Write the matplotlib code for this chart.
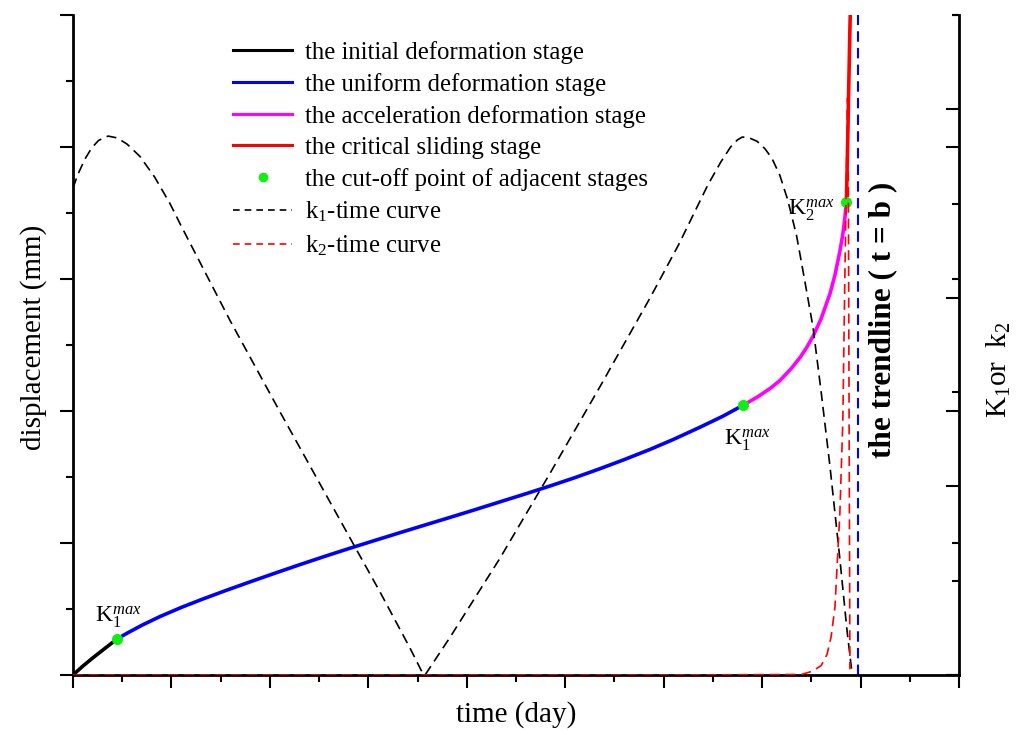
import matplotlib
matplotlib.use('Agg')
import matplotlib.pyplot as plt
from matplotlib.lines import Line2D
from matplotlib.ticker import FixedLocator

plt.rcParams['font.family'] = ['Liberation Serif', 'DejaVu Serif']
plt.rcParams['mathtext.fontset'] = 'custom'
plt.rcParams['mathtext.rm'] = 'Liberation Serif'
plt.rcParams['mathtext.it'] = 'Liberation Serif:italic'
plt.rcParams['mathtext.bf'] = 'Liberation Serif:bold'

# ---------------- data ----------------
# displacement stages (time, displacement)
t_initial = [0.0, 0.10, 0.206, 0.33, 0.447]
d_initial = [0.0, 0.135, 0.265, 0.41, 0.545]

t_uniform = [0.447, 0.55, 0.70, 0.884, 1.10, 1.32, 1.55, 1.80, 2.05, 2.31, 2.56, 2.81,
             3.06, 3.32, 3.57, 3.83, 4.08, 4.34, 4.60, 4.85, 5.10, 5.35, 5.60, 5.86,
             6.10, 6.37, 6.60, 6.81]
d_uniform = [0.545, 0.634, 0.754, 0.886, 1.024, 1.152, 1.279, 1.412, 1.542, 1.675,
             1.799, 1.919, 2.036, 2.156, 2.270, 2.388, 2.503, 2.625, 2.746, 2.866,
             2.991, 3.124, 3.264, 3.417, 3.570, 3.755, 3.920, 4.09]

t_accel = [6.81, 6.95, 7.08, 7.18, 7.30, 7.39, 7.46, 7.52, 7.60, 7.69, 7.74, 7.79,
           7.82, 7.84, 7.856]
d_accel = [4.09, 4.21, 4.34, 4.46, 4.65, 4.82, 4.98, 5.14, 5.40, 5.78, 6.06, 6.42,
           6.68, 6.91, 7.17]

t_critical = [7.856, 7.862, 7.869, 7.876, 7.884, 7.892, 7.902]
d_critical = [7.17, 7.55, 8.05, 8.60, 9.20, 9.80, 10.4]

# cut-off points of adjacent stages
t_cut = [0.447, 6.81, 7.856]
d_cut = [0.545, 4.09, 7.17]

# k1-time curve
t_k1 = [0.0, 0.05, 0.12, 0.19, 0.26, 0.356, 0.45, 0.55, 0.68, 0.83, 0.985, 1.10,
        1.219, 1.595, 2.103, 2.611, 3.119, 3.423, 3.556, 3.576,
        3.83, 4.338, 4.846, 5.354, 5.862, 6.15, 6.30, 6.45, 6.58, 6.68, 6.75, 6.80,
        6.87, 6.95, 7.03, 7.10, 7.18, 7.26, 7.35, 7.43, 7.517, 7.60, 7.69, 7.792,
        7.863, 7.913]
k1 = [2.583, 2.655, 2.735, 2.795, 2.835, 2.858, 2.848, 2.815, 2.750, 2.640, 2.500,
      2.380, 2.260, 1.880, 1.395, 0.917, 0.440, 0.143, 0.005, 0.0,
      0.20, 0.62, 1.07, 1.53, 2.00, 2.28, 2.44, 2.60, 2.72, 2.80, 2.838, 2.853,
      2.848, 2.830, 2.790, 2.740, 2.650, 2.520, 2.330, 2.100, 1.845, 1.500, 1.103,
      0.605, 0.233, 0.011]

# k2-time curve
t_k2 = [0.0, 3.0, 6.0, 7.40, 7.51, 7.60, 7.66, 7.70, 7.74, 7.79, 7.82, 7.84, 7.855,
        7.868, 7.876, 7.884, 7.892]
k2 = [0.0, 0.0, 0.0, 0.003, 0.02, 0.05, 0.11, 0.20, 0.36, 0.86, 1.35, 2.09, 2.59,
      3.06, 2.6, 1.3, 0.03]

t_trend = 7.974  # t = b

labels = ['the initial deformation stage', 'the uniform deformation stage',
          'the acceleration deformation stage', 'the critical sliding stage',
          'the cut-off point of adjacent stages', 'k$_1$-time curve', 'k$_2$-time curve']

# ---------------- figure ----------------
fig = plt.figure(figsize=(10.24, 7.31), dpi=100)
ax = fig.add_axes([73/1024, 56/731, 886/1024, 660/731])
ax.set_xlim(0, 9)
ax.set_ylim(0, 10)
ax2 = ax.twinx()
ax2.set_ylim(0, 3.5)
ax3 = ax.twinx()
ax3.set_ylim(0, 10)

for s in ['top', 'right']:
    ax.spines[s].set_visible(False)
for s in ['left', 'bottom']:
    ax.spines[s].set_linewidth(2)
for s in ['top', 'left', 'bottom']:
    ax2.spines[s].set_visible(False)
ax2.spines['right'].set_linewidth(2)
for s in ax3.spines.values():
    s.set_visible(False)

ax.xaxis.set_major_locator(FixedLocator(range(10)))
ax.xaxis.set_minor_locator(FixedLocator([i + 0.5 for i in range(9)]))
ax.yaxis.set_major_locator(FixedLocator([0, 2, 4, 6, 8, 10]))
ax.yaxis.set_minor_locator(FixedLocator([1, 3, 5, 7, 9]))
ax.tick_params(which='both', direction='out', width=1.5, labelleft=False,
               labelbottom=False, top=False, right=False)
ax.tick_params(which='major', length=9.4)
ax.tick_params(which='minor', length=5)

ax2.yaxis.set_major_locator(FixedLocator([0, 1, 2, 3]))
ax2.yaxis.set_minor_locator(FixedLocator([0.5, 1.5, 2.5, 3.5]))
ax2.tick_params(which='both', direction='in', width=1.5, labelright=False)
ax2.tick_params(which='major', length=9.4)
ax2.tick_params(which='minor', length=5)

ax3.yaxis.set_major_locator(FixedLocator([0, 4, 8]))
ax3.yaxis.set_minor_locator(FixedLocator([2, 6, 10]))
ax3.tick_params(which='both', direction='in', width=1.5, labelright=False)
ax3.tick_params(which='major', length=9.4)
ax3.tick_params(which='minor', length=5)

lw_main = 2.6
ax.plot(t_initial, d_initial, color='black', lw=lw_main, solid_capstyle='butt')
ax.plot(t_uniform, d_uniform, color='#0000ff', lw=lw_main, solid_capstyle='butt')
ax.plot(t_accel, d_accel, color='#ff00ff', lw=lw_main, solid_capstyle='butt')
ax.plot(t_critical, d_critical, color='#ff0000', lw=lw_main, solid_capstyle='butt')
ax.plot(t_cut, d_cut, 'o', color='#11ee11', ms=7, zorder=5, clip_on=False)

dash = (0, (6, 3.5))
ax2.plot(t_k1, k1, color='black', lw=1.2, linestyle=dash)
ax2.plot(t_k2, k2, color='#ff0000', lw=1.2, linestyle=dash)
ax.axvline(t_trend, color='#0000ff', lw=1.5, linestyle=(0, (5, 3)))

# annotations
ax.text(0.22, 0.80, r'K$_1^{max}$', fontsize=17, ha='left', va='baseline')
ax.text(6.61, 3.48, r'K$_1^{max}$', fontsize=17, ha='left', va='baseline')
ax.text(7.26, 6.97, r'K$_2^{max}$', fontsize=17, ha='left', va='baseline')
ax.text(8.23, 5.38, 'the trendline ( t = b )', fontsize=22.5, fontweight='bold',
        rotation=90, ha='center', va='center')

ax.set_xlabel('time (day)', fontsize=21)
ax.xaxis.set_label_coords(0.5, -0.040)
ax.set_ylabel('displacement (mm)', fontsize=21)
ax.yaxis.set_label_coords(-0.029, 0.512)
ax2.set_ylabel(r'K$_1$or  k$_2$', fontsize=21)
ax2.yaxis.set_label_coords(1.029, 0.462)

handles = [Line2D([], [], color='black', lw=2.2),
           Line2D([], [], color='#0000ff', lw=2.2),
           Line2D([], [], color='#ff00ff', lw=2.2),
           Line2D([], [], color='#ff0000', lw=2.2),
           Line2D([], [], color='#11ee11', marker='o', ms=6, lw=0),
           Line2D([], [], color='black', lw=1.2, linestyle=(0, (4, 3))),
           Line2D([], [], color='#ff0000', lw=1.2, linestyle=(0, (4, 3)))]
fig.legend(handles, labels, loc='upper left', bbox_to_anchor=(233/1024, 1 - 41/731),
           frameon=False, fontsize=17.8, handlelength=2.4, handletextpad=0.5,
           labelspacing=0.36, borderpad=0, borderaxespad=0)

fig.savefig('out.png', dpi=100)
